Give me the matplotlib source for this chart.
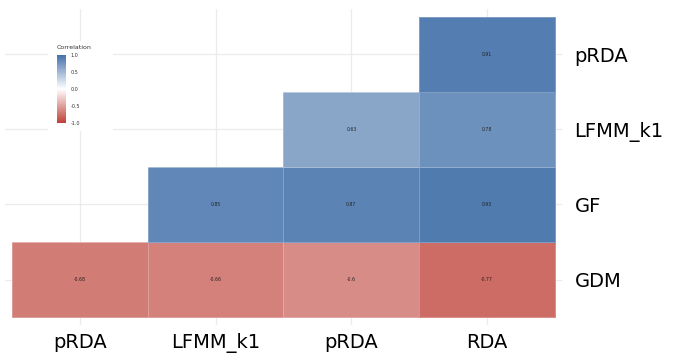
import numpy as np
import matplotlib.pyplot as plt
from matplotlib.colors import LinearSegmentedColormap, Normalize
from matplotlib.patches import Rectangle
import matplotlib as mpl

plt.rcParams['font.family'] = ['DejaVu Sans']

# data: columns (x) and rows (y, bottom to top)
col_labels = ['pRDA', 'LFMM_k1', 'pRDA', 'RDA']
row_labels = ['GDM', 'GF', 'LFMM_k1', 'pRDA']
row_gdm = [-0.68, -0.66, -0.6, -0.77]
row_gf = [np.nan, 0.85, 0.87, 0.93]
row_lfmm = [np.nan, np.nan, 0.63, 0.78]
row_prda = [np.nan, np.nan, np.nan, 0.91]

corr = np.array([row_gdm, row_gf, row_lfmm, row_prda])

cmap = LinearSegmentedColormap.from_list('corr', ['#BE4038', '#FFFFFF', '#4472AA'])
norm = Normalize(vmin=-1, vmax=1)

fig = plt.figure(figsize=(6.73, 3.54), dpi=100)
ax = fig.add_axes([0.0074, 0.0833, 0.8276, 0.89])

nr, nc = corr.shape
# grid lines at category centres
for i in range(nc):
    ax.axvline(i, color='#EBEBEB', lw=0.9, zorder=0)
for j in range(nr):
    ax.axhline(j, color='#EBEBEB', lw=0.9, zorder=0)

data = np.ma.masked_invalid(corr)
ax.pcolormesh(np.arange(nc + 1) - 0.5, np.arange(nr + 1) - 0.5, data,
              cmap=cmap, norm=norm, edgecolors=(1, 1, 1, 0.25), linewidth=0.6, zorder=1)

for j in range(nr):
    for i in range(nc):
        v = corr[j, i]
        if not np.isnan(v):
            ax.text(i, j, f'{v:g}', ha='center', va='center', fontsize=3.3, color='#222222', zorder=2)

ax.set_xlim(-0.55, nc - 0.45)
ax.set_ylim(-0.6, nr - 0.4)
ax.set_xticks(range(nc))
ax.set_xticklabels(col_labels, fontsize=14)
ax.set_yticks(range(nr))
ax.set_yticklabels(row_labels, fontsize=14)
ax.yaxis.tick_right()
ax.tick_params(axis='both', length=0)
ax.tick_params(axis='x', pad=6)
ax.tick_params(axis='y', pad=9)
for s in ax.spines.values():
    s.set_visible(False)

# legend box
fig.patches.append(Rectangle((0.071, 0.63), 0.097, 0.255, transform=fig.transFigure,
                             facecolor='white', edgecolor='none', zorder=3))
cax = fig.add_axes([0.0847, 0.6525, 0.0134, 0.192])
cax.set_zorder(4)
cb = mpl.colorbar.ColorbarBase(cax, cmap=cmap, norm=norm, ticks=[-1, -0.5, 0, 0.5, 1])
cb.outline.set_visible(False)
cb.ax.set_yticklabels(['-1.0', '-0.5', '0.0', '0.5', '1.0'])
cb.ax.tick_params(labelsize=3.5, length=1.5, color='white', pad=2, labelcolor='#333333')
fig.text(0.0847, 0.862, 'Correlation', fontsize=4.5, color='#333333', zorder=5)

fig.savefig('out.png', dpi=100)
